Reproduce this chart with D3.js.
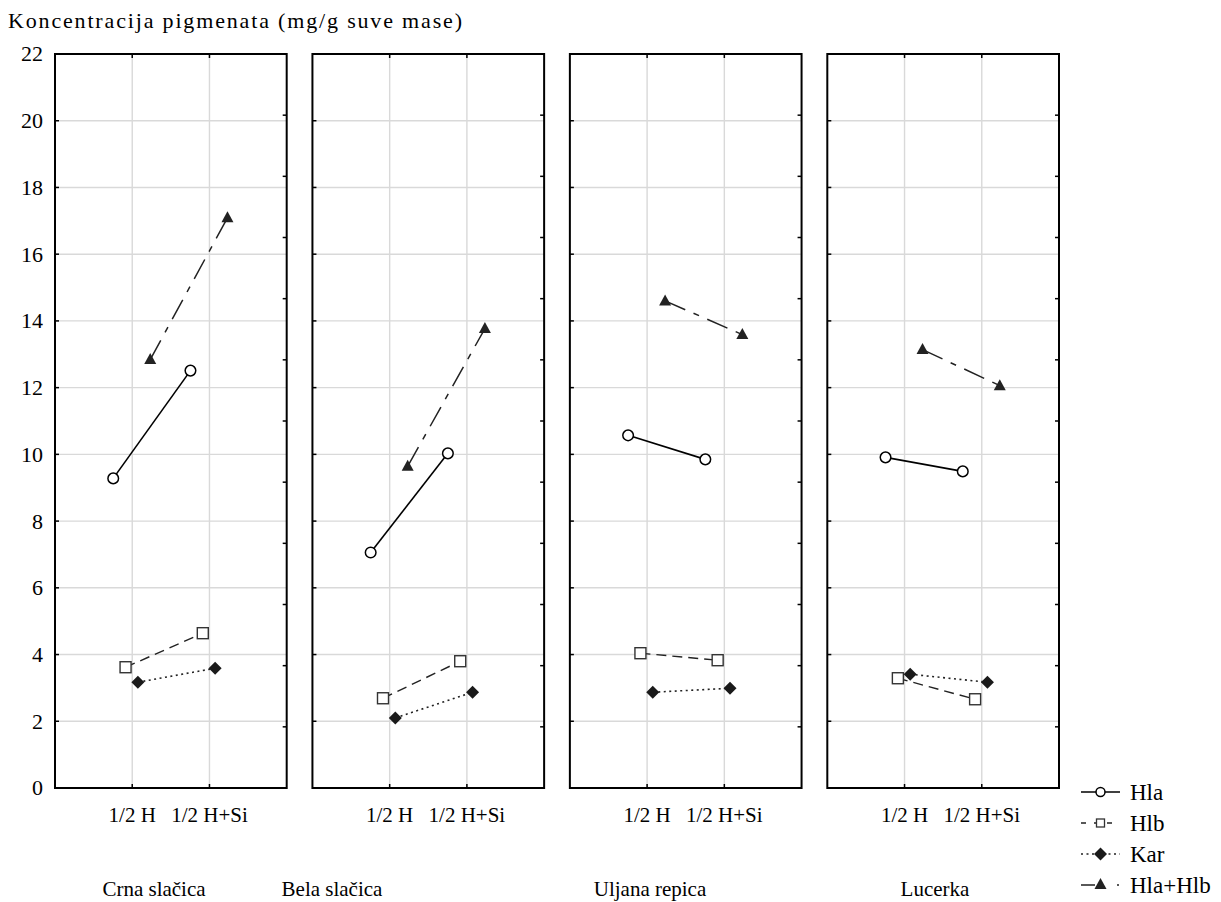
<!DOCTYPE html>
<html>
<head>
<meta charset="utf-8">
<script src="https://cdn.jsdelivr.net/npm/d3@7"></script>
<style>
  body { margin: 0; background: #fff; }
  text { font-family: "Liberation Serif", "DejaVu Serif", serif; fill: #000; }
</style>
</head>
<body>
<div id="chart"></div>
<script>
// data
const panels = ['Crna slačica', 'Bela slačica', 'Uljana repica', 'Lucerka'];
const treatments = ['1/2 H', '1/2 H+Si'];
const seriesNames = ['Hla', 'Hlb', 'Kar', 'Hla+Hlb'];
const yTicks = [0, 2, 4, 6, 8, 10, 12, 14, 16, 18, 20, 22];

// values per panel: [1/2 H, 1/2 H+Si]
const hla    = [[9.28, 12.51], [7.06, 10.03], [10.57, 9.85], [9.91, 9.49]];
const hlb    = [[3.62, 4.64], [2.69, 3.80], [4.04, 3.83], [3.29, 2.66]];
const kar    = [[3.17, 3.59], [2.10, 2.87], [2.87, 2.99], [3.41, 3.17]];
const hlaHlb = [[12.84, 17.09], [9.64, 13.77], [14.60, 13.59], [13.14, 12.06]];

const seriesValues = [hla, hlb, kar, hlaHlb];

const width = 1221, height = 902;
const plotTop = 54, plotBottom = 788;

const svg = d3.select('#chart').append('svg')
    .attr('width', width)
    .attr('height', height);

// scales
const yScale = d3.scaleLinear().domain([0, 22]).range([plotBottom, plotTop]);

const panelScale = d3.scaleBand()
    .domain(panels)
    .range([55, 1059])
    .paddingInner(0.1)
    .paddingOuter(0);

const pw = panelScale.bandwidth();

const xScale = d3.scalePoint()
    .domain(treatments)
    .range([0, pw])
    .padding(1);

// series are dodged around each category
const dodge = d3.scalePoint()
    .domain(seriesNames)
    .range([-19, 18]);

const styles = {
    'Hla':     { dash: null,         color: '#000',    width: 1.6 },
    'Hlb':     { dash: '10,6',       color: '#222',    width: 1.4 },
    'Kar':     { dash: '2,3.5',      color: '#222',    width: 1.6 },
    'Hla+Hlb': { dash: '22,9,6,9',   color: '#222',    width: 1.5 }
};

function drawMarker(g, name, x, y) {
    if (name === 'Hla') {
        g.append('circle').attr('cx', x).attr('cy', y).attr('r', 5.3)
            .attr('fill', '#fff').attr('stroke', '#000').attr('stroke-width', 1.5);
    } else if (name === 'Hlb') {
        g.append('rect').attr('x', x - 5.5).attr('y', y - 5.5).attr('width', 11).attr('height', 11)
            .attr('fill', '#fff').attr('stroke', '#333').attr('stroke-width', 1.4);
    } else if (name === 'Kar') {
        g.append('path').attr('d', `M${x},${y - 6.5}L${x + 6.5},${y}L${x},${y + 6.5}L${x - 6.5},${y}Z`)
            .attr('fill', '#1a1a1a');
    } else {
        g.append('path').attr('d', `M${x},${y - 6.5}L${x + 6},${y + 4.5}L${x - 6},${y + 4.5}Z`)
            .attr('fill', '#222');
    }
}

// y axis title
svg.append('text')
    .attr('x', 8)
    .attr('y', 28)
    .attr('textLength', 454)
    .style('font-size', '22px')
    .text('Koncentracija pigmenata (mg/g suve mase)');

// y tick labels (left of first panel)
svg.selectAll('.ylab')
    .data(yTicks)
    .join('text')
    .attr('class', 'ylab')
    .attr('x', 43)
    .attr('y', d => yScale(d))
    .attr('dy', '0.34em')
    .attr('text-anchor', 'end')
    .style('font-size', '22px')
    .text(d => d);

// 12 ticks on the right edge of each panel
const rightTicks = d3.range(1, 12).map(i => plotBottom - (plotBottom - plotTop) * i / 12);

panels.forEach((p, pi) => {
    const g = svg.append('g').attr('transform', `translate(${panelScale(p)},0)`);

    // grid
    g.selectAll('.hgrid')
        .data(yTicks.slice(1, -1))
        .join('line')
        .attr('x1', 0).attr('x2', pw)
        .attr('y1', d => yScale(d)).attr('y2', d => yScale(d))
        .attr('stroke', '#d9d9d9').attr('stroke-width', 1.4);

    g.selectAll('.vgrid')
        .data(treatments)
        .join('line')
        .attr('x1', d => xScale(d)).attr('x2', d => xScale(d))
        .attr('y1', plotTop).attr('y2', plotBottom)
        .attr('stroke', '#d9d9d9').attr('stroke-width', 1.4);

    // frame
    g.append('rect')
        .attr('x', 0).attr('y', plotTop).attr('width', pw).attr('height', plotBottom - plotTop)
        .attr('fill', 'none').attr('stroke', '#000').attr('stroke-width', 2);

    // left inner ticks
    g.selectAll('.lt')
        .data(yTicks.slice(1, -1))
        .join('line')
        .attr('x1', 0).attr('x2', 4)
        .attr('y1', d => yScale(d)).attr('y2', d => yScale(d))
        .attr('stroke', '#000').attr('stroke-width', 1.5);

    // right inner ticks
    g.selectAll('.rt')
        .data(rightTicks)
        .join('line')
        .attr('x1', pw - 4).attr('x2', pw)
        .attr('y1', d => d).attr('y2', d => d)
        .attr('stroke', '#000').attr('stroke-width', 1.5);

    // top / bottom ticks
    treatments.forEach(t => {
        g.append('line').attr('x1', xScale(t)).attr('x2', xScale(t))
            .attr('y1', plotTop).attr('y2', plotTop + 4).attr('stroke', '#000').attr('stroke-width', 1.5);
        g.append('line').attr('x1', xScale(t)).attr('x2', xScale(t))
            .attr('y1', plotBottom - 4).attr('y2', plotBottom).attr('stroke', '#000').attr('stroke-width', 1.5);
    });

    // x tick labels
    g.selectAll('.xlab')
        .data(treatments)
        .join('text')
        .attr('x', d => xScale(d))
        .attr('y', 822)
        .attr('text-anchor', 'middle')
        .style('font-size', '21px')
        .text(d => d);

    // series
    seriesNames.forEach((name, si) => {
        const vals = seriesValues[si][pi];
        const pts = treatments.map((t, ti) => [xScale(t) + dodge(name), yScale(vals[ti])]);
        const st = styles[name];
        g.append('path')
            .attr('d', d3.line()(pts))
            .attr('fill', 'none')
            .attr('stroke', st.color)
            .attr('stroke-width', st.width)
            .attr('stroke-dasharray', st.dash);
        pts.forEach(pt => drawMarker(g, name, pt[0], pt[1]));
    });
});

// panel names (placed as in the reference)
const panelLabelX = [154, 332, 650, 935];
svg.selectAll('.plab')
    .data(panels)
    .join('text')
    .attr('x', (d, i) => panelLabelX[i])
    .attr('y', 896)
    .attr('text-anchor', 'middle')
    .style('font-size', '21px')
    .text(d => d);

// legend
const legend = svg.append('g').attr('transform', 'translate(1081,0)');
const legendY = d3.scalePoint().domain(seriesNames).range([792, 885]);
seriesNames.forEach(name => {
    const y = legendY(name);
    const st = styles[name];
    let dash = st.dash;
    if (name === 'Hla+Hlb') dash = '14,22,2,10';
    if (name === 'Hlb') dash = '5,8';
    legend.append('line')
        .attr('x1', 0).attr('x2', 39).attr('y1', y).attr('y2', y)
        .attr('stroke', st.color).attr('stroke-width', st.width)
        .attr('stroke-dasharray', dash);
    const g = legend.append('g');
    if (name === 'Hlb') {
        g.append('rect').attr('x', 19.5 - 4).attr('y', y - 4).attr('width', 8).attr('height', 8)
            .attr('fill', '#fff').attr('stroke', '#333').attr('stroke-width', 1.3);
    } else if (name === 'Hla+Hlb') {
        drawMarker(g, name, 19.5, y - 0.5);
    } else if (name === 'Hla') {
        g.append('circle').attr('cx', 19.5).attr('cy', y).attr('r', 4.5)
            .attr('fill', '#fff').attr('stroke', '#000').attr('stroke-width', 1.5);
    } else {
        drawMarker(g, name, 19.5, y);
    }
    legend.append('text')
        .attr('x', 49)
        .attr('y', y)
        .attr('dy', '0.34em')
        .style('font-size', '23px')
        .text(name);
});
</script>
</body>
</html>
